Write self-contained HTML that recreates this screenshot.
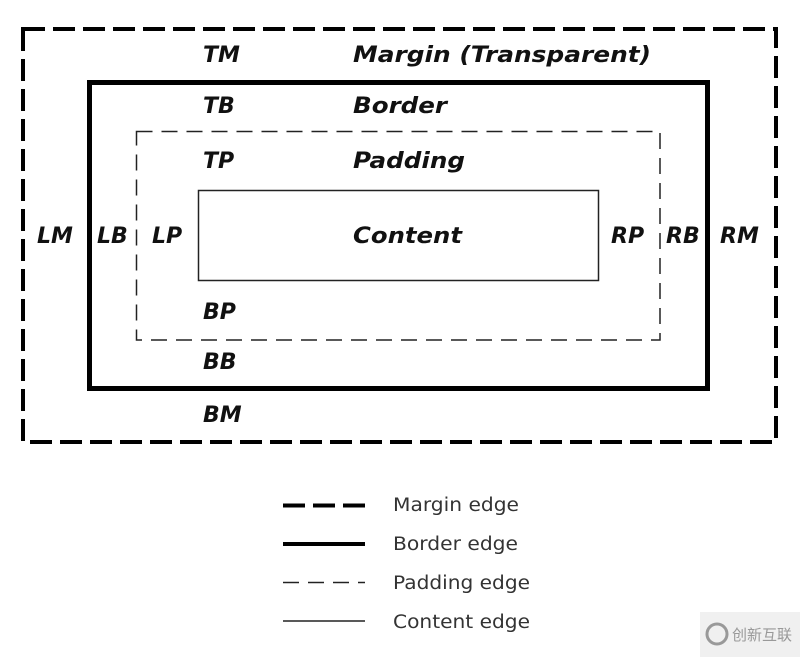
<!DOCTYPE html>
<html><head><meta charset="utf-8"><style>
html,body{margin:0;padding:0;background:#fff;}
svg{display:block}
.l{font-family:"DejaVu Sans","Liberation Sans",sans-serif;font-weight:bold;font-style:italic;font-size:22px;fill:#111;}
.g{font-family:"DejaVu Sans","Liberation Sans",sans-serif;font-size:18.5px;fill:#333;}
</style></head><body>
<svg width="800" height="657" viewBox="0 0 800 657" xmlns="http://www.w3.org/2000/svg">
<rect x="0" y="0" width="800" height="657" fill="#fff"/>
<rect x="23" y="29" width="753" height="413" fill="none" stroke="#000" stroke-width="4" stroke-dasharray="22 8"/>
<rect x="89.5" y="82.5" width="618" height="306" fill="none" stroke="#000" stroke-width="5"/>
<rect x="136.5" y="131.5" width="523.5" height="208.5" fill="none" stroke="#222" stroke-width="1.5" stroke-dasharray="16 9"/>
<rect x="198.5" y="190.5" width="400" height="90" fill="none" stroke="#222" stroke-width="1.5"/>
<text class="l" x="203" y="62">TM</text>
<text class="l" x="353" y="62" textLength="298" lengthAdjust="spacingAndGlyphs">Margin (Transparent)</text>
<text class="l" x="203" y="113">TB</text>
<text class="l" x="353" y="113" textLength="94" lengthAdjust="spacingAndGlyphs">Border</text>
<text class="l" x="203" y="168">TP</text>
<text class="l" x="353" y="168" textLength="112" lengthAdjust="spacingAndGlyphs">Padding</text>
<text class="l" x="37" y="243">LM</text>
<text class="l" x="97" y="243">LB</text>
<text class="l" x="152" y="243">LP</text>
<text class="l" x="353" y="243" textLength="109" lengthAdjust="spacingAndGlyphs">Content</text>
<text class="l" x="611" y="243">RP</text>
<text class="l" x="666" y="243">RB</text>
<text class="l" x="720" y="243">RM</text>
<text class="l" x="203" y="319">BP</text>
<text class="l" x="203" y="369">BB</text>
<text class="l" x="203" y="422">BM</text>
<line x1="283" y1="505.5" x2="365" y2="505.5" stroke="#000" stroke-width="4" stroke-dasharray="22 8"/>
<line x1="283" y1="544" x2="365" y2="544" stroke="#000" stroke-width="4"/>
<line x1="283" y1="582.5" x2="365" y2="582.5" stroke="#222" stroke-width="1.5" stroke-dasharray="16 9"/>
<line x1="283" y1="621" x2="365" y2="621" stroke="#222" stroke-width="1.5"/>
<text class="g" x="393" y="511" textLength="126" lengthAdjust="spacingAndGlyphs">Margin edge</text>
<text class="g" x="393" y="550" textLength="125" lengthAdjust="spacingAndGlyphs">Border edge</text>
<text class="g" x="393" y="589" textLength="137" lengthAdjust="spacingAndGlyphs">Padding edge</text>
<text class="g" x="393" y="628" textLength="137" lengthAdjust="spacingAndGlyphs">Content edge</text>
<rect x="700" y="612" width="100" height="45" fill="#f0f0f0"/>
<circle cx="717" cy="634" r="10" fill="none" stroke="#999" stroke-width="3"/>
<text x="732" y="640" font-family="'Noto Sans CJK SC',sans-serif" font-size="15" fill="#999">创新互联</text>
</svg>
</body></html>
